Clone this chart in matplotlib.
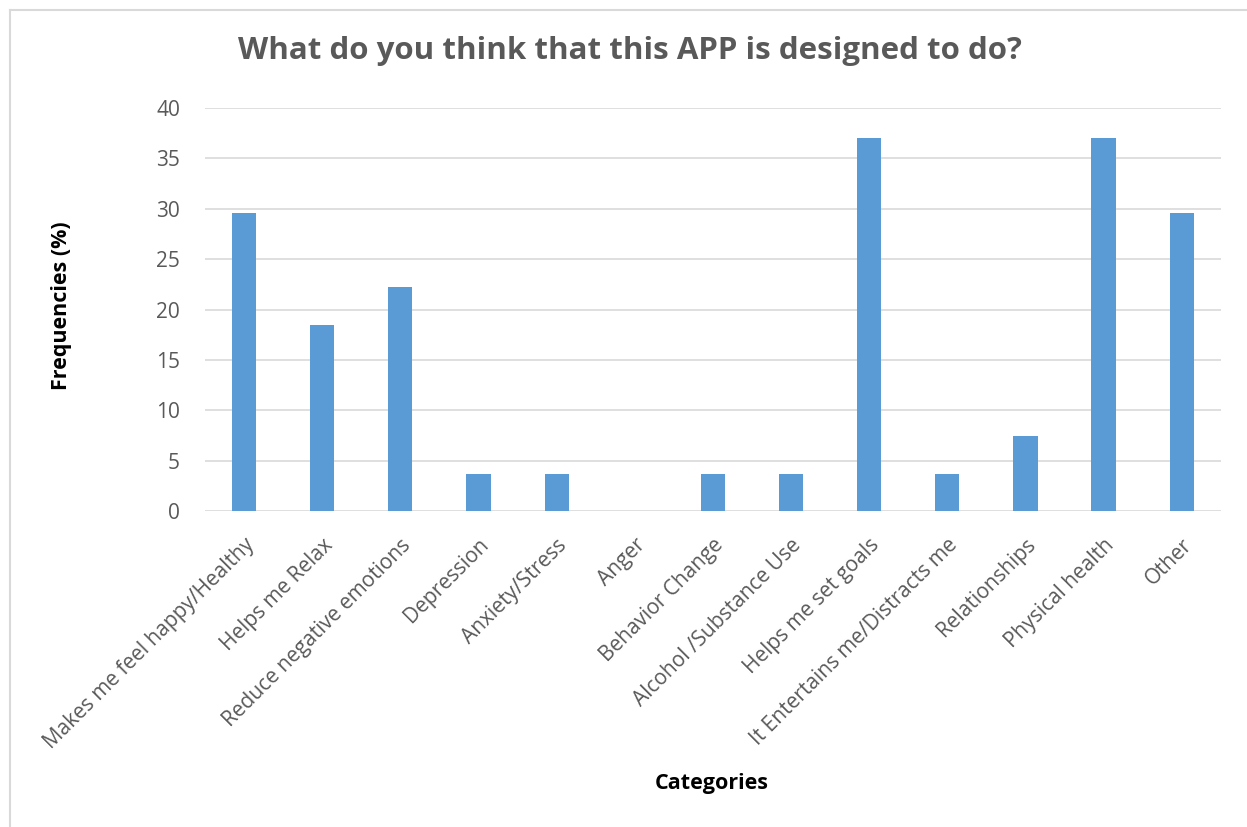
import numpy as np
import matplotlib
matplotlib.use("Agg")
import matplotlib.pyplot as plt
from matplotlib.lines import Line2D

categories = ["Makes me feel happy/Healthy", "Helps me Relax", "Reduce negative emotions",
              "Depression", "Anxiety/Stress", "Anger", "Behavior Change",
              "Alcohol /Substance Use", "Helps me set goals", "It Entertains me/Distracts me",
              "Relationships", "Physical health", "Other"]
values = [29.6, 18.5, 22.2, 3.7, 3.7, 0, 3.7, 3.7, 37.0, 3.7, 7.4, 37.0, 29.6]
yticks = [0, 5, 10, 15, 20, 25, 30, 35, 40]

plt.rcParams['font.family'] = ['Open Sans', 'DejaVu Sans']
txt = "#595959"

fig = plt.figure(figsize=(12.47, 8.27), dpi=100)
ax = fig.add_axes([0.1644, 0.3821, 0.8146, 0.4873])

x = np.arange(len(categories))
ax.bar(x, values, width=0.31, color="#5b9bd5", zorder=3)
ax.set_xlim(-0.5, len(categories) - 0.5)
ax.set_ylim(0, 40)
ax.set_yticks(yticks)
ax.set_xticks(x)
ax.set_xticklabels(categories, rotation=45, ha="right", rotation_mode="anchor", fontsize=15, color=txt)
ax.tick_params(axis="y", labelsize=15, colors=txt, length=0, pad=18)
ax.tick_params(axis="x", length=0, pad=17)
ax.grid(axis="y", color="#d9d9d9", linewidth=1.2, zorder=0)
for s in ax.spines.values():
    s.set_visible(False)

fig.text(0.505, 0.938, "What do you think that this APP is designed to do?", ha="center", va="center",
         fontsize=22.5, fontweight="bold", color=txt)
fig.text(0.049, 0.63, "Frequencies (%)", rotation=90, ha="center", va="center",
         fontsize=15.5, fontweight="bold", color="black")
fig.text(0.571, 0.053, "Categories", ha="center", va="center",
         fontsize=15.5, fontweight="bold", color="black")

# chart frame (top and left edges visible)
fig.add_artist(Line2D([0.008, 0.008], [0, 0.988], transform=fig.transFigure, color="#d9d9d9", lw=1.5))
fig.add_artist(Line2D([0.008, 1], [0.988, 0.988], transform=fig.transFigure, color="#d9d9d9", lw=1.5))

fig.savefig("out.png", dpi=100, facecolor="white")
